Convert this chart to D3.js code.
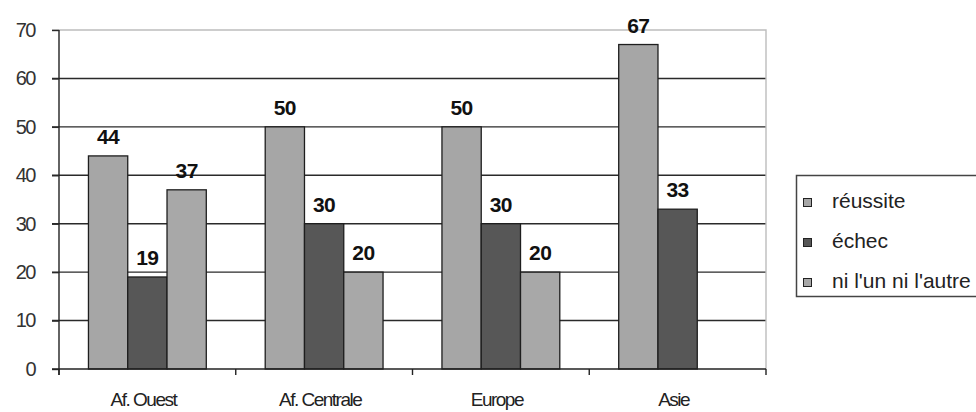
<!DOCTYPE html>
<html><head><meta charset="utf-8">
<script src="https://cdn.jsdelivr.net/npm/d3@7"></script>
<style>
html,body{margin:0;padding:0;background:#fff;}
svg{display:block;font-family:Arial,"Liberation Sans",sans-serif;}
</style></head>
<body><svg id="c" width="976" height="412"></svg>
<script>
const categories = ["Af. Ouest", "Af. Centrale", "Europe", "Asie"];
const seriesNames = ["réussite", "échec", "ni l'un ni l'autre"];
const reussite = [44, 50, 50, 67];
const echec = [19, 30, 30, 33];
const niLunNiLautre = [37, 20, 20, null];
const yTicks = [0, 10, 20, 30, 40, 50, 60, 70];
const colors = ["#a6a6a6", "#575757", "#a8a8a8"];

const seriesValues = [reussite, echec, niLunNiLautre];
const svg = d3.select("#c");
const L = 59, R = 766, T = 30, B = 369;

const x = d3.scaleBand().domain(categories).range([L, R]).padding(0);
const bw = x.bandwidth();
const w = bw / 4.5;
const x1 = d3.scaleBand().domain(d3.range(3)).range([0.75 * w, 3.75 * w]).padding(0);
const y = d3.scaleLinear().domain([0, 70]).range([B, T]);

// gridlines
svg.append("g").selectAll("line").data(yTicks.filter(t => t > 0 && t < 70)).join("line")
  .attr("x1", L - 7).attr("x2", R).attr("y1", d => y(d)).attr("y2", d => y(d))
  .attr("stroke", "#2a2a2a").attr("stroke-width", 1.4);
// top / right border (light gray)
svg.append("path").attr("d", `M${L - 7},${y(70)}H${R}V${B}`)
  .attr("fill", "none").attr("stroke", "#bdbdbd").attr("stroke-width", 1.4);

// bars
const data = [];
categories.forEach((c, i) => seriesValues.forEach((s, j) => {
  if (s[i] != null) data.push({ c, j, v: s[i] });
}));
svg.append("g").selectAll("rect").data(data).join("rect")
  .attr("x", d => x(d.c) + x1(d.j)).attr("width", x1.bandwidth())
  .attr("y", d => y(d.v)).attr("height", d => B - y(d.v))
  .attr("fill", d => colors[d.j]).attr("stroke", "#1e1e1e").attr("stroke-width", 1.3);

// value labels
svg.append("g").selectAll("text").data(data).join("text")
  .attr("x", d => x(d.c) + x1(d.j) + x1.bandwidth() / 2)
  .attr("y", d => y(d.v) - 12)
  .attr("text-anchor", "middle").attr("font-size", 21).attr("font-weight", "bold")
  .attr("letter-spacing", -0.5).attr("fill", "#111").text(d => d.v);

// y axis
const yAxis = d3.axisLeft(y).tickValues(yTicks).tickSize(7).tickPadding(17);
const gy = svg.append("g").attr("transform", `translate(${L},0)`).call(yAxis);
gy.select(".domain").attr("stroke", "#222").attr("stroke-width", 1.4).attr("d", `M0,${T}V${B + 6}`);
gy.selectAll(".tick line").attr("stroke", "#2a2a2a").attr("stroke-width", 1.4);
gy.selectAll(".tick text").attr("font-size", 20).attr("fill", "#333")
  .attr("letter-spacing", -1.5).attr("font-family", "Arial,'Liberation Sans',sans-serif");

// x axis
const xAxis = d3.axisBottom(x).tickSize(0).tickPadding(24);
const gx = svg.append("g").attr("transform", `translate(0,${B})`).call(xAxis);
gx.select(".domain").attr("stroke", "#222").attr("stroke-width", 1.4).attr("d", `M${L - 7},0H${R}`);
gx.selectAll(".tick text").attr("font-size", 19).attr("fill", "#222")
  .attr("letter-spacing", -1.5).attr("dx", -4).attr("font-family", "Arial,'Liberation Sans',sans-serif");
// boundary ticks between categories
const bounds = categories.map(c => x(c)).concat([R]);
svg.append("g").selectAll("line").data(bounds).join("line")
  .attr("x1", d => d).attr("x2", d => d).attr("y1", B).attr("y2", B + 6)
  .attr("stroke", "#222").attr("stroke-width", 1.4);

// legend
const lg = svg.append("g");
lg.append("rect").attr("x", 796.5).attr("y", 175.5).attr("width", 200).attr("height", 121)
  .attr("fill", "#fff").attr("stroke", "#444").attr("stroke-width", 1.5);
const items = lg.selectAll("g.it").data(seriesNames).join("g").attr("class", "it")
  .attr("transform", (d, i) => `translate(0,${i * 40})`);
items.append("rect").attr("x", 803.5).attr("y", 198.5).attr("width", 8).attr("height", 8)
  .attr("fill", (d, i) => colors[i]).attr("stroke", "#222").attr("stroke-width", 1);
items.append("text").attr("x", 832).attr("y", 208).attr("font-size", 21).attr("fill", "#222")
  .text(d => d);
</script></body></html>
